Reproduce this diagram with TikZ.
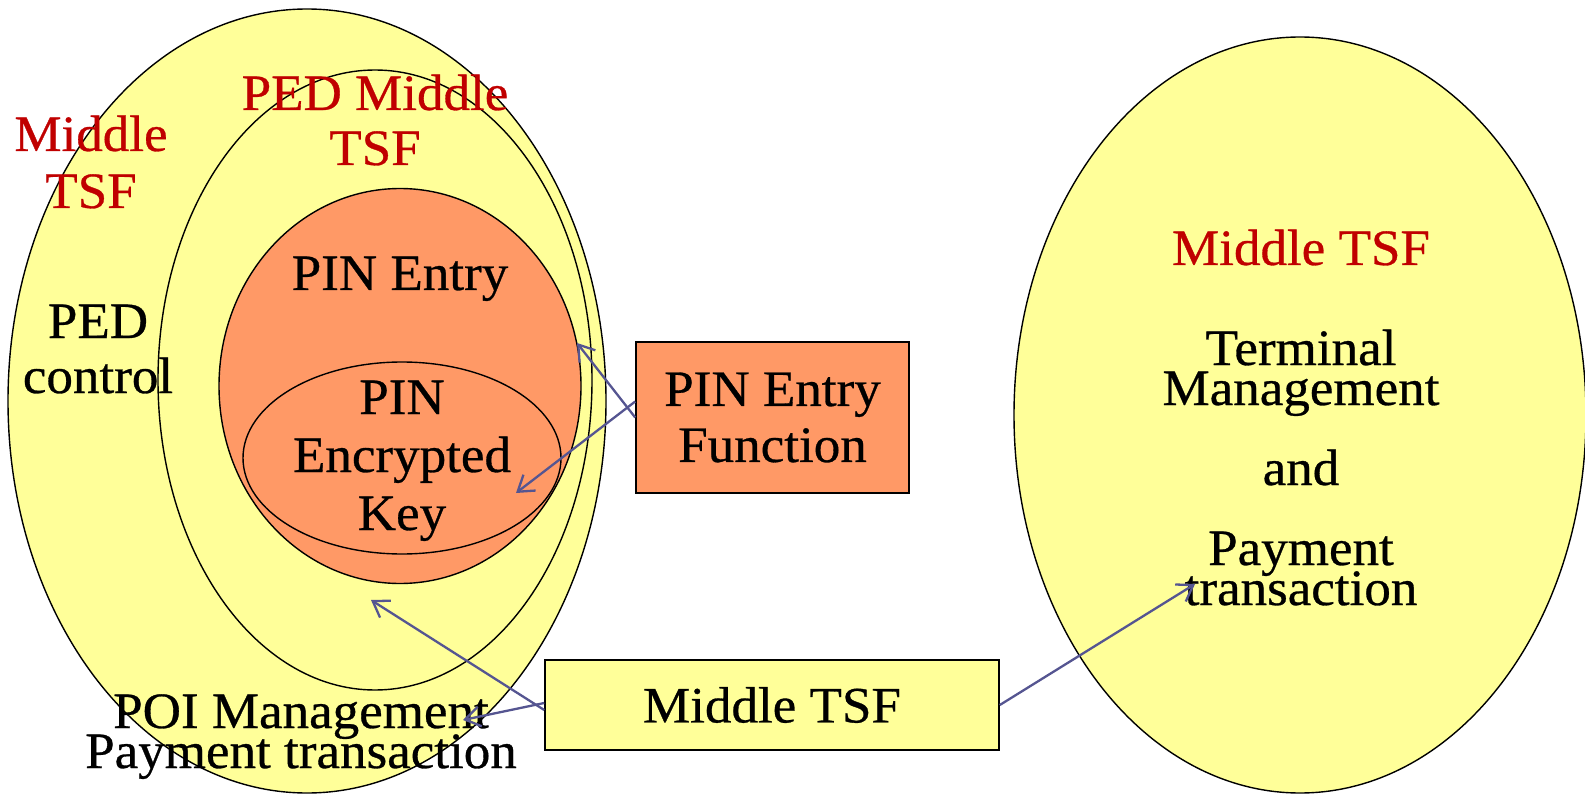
\documentclass[tikz,border=0pt]{standalone}
\usepackage{fontspec}
\setmainfont[FakeStretch=1.04, FakeBold=0.6]{Liberation Serif}
\usetikzlibrary{shapes.geometric,arrows.meta}
\definecolor{paleyellow}{HTML}{FFFF99}
\definecolor{salmon}{HTML}{FF9966}
\definecolor{tsfred}{HTML}{C00000}
\definecolor{linkblue}{RGB}{85,85,145}
\tikzset{
  zone/.style={ellipse, draw=black, line width=1.4pt, inner sep=0pt},
  fnbox/.style={draw=black, line width=1.6pt, inner sep=0pt, align=center,
    font=\fontsize{51}{56}\selectfont},
  lbl/.style={anchor=base, inner sep=0pt, font=\fontsize{51}{56}\selectfont},
  redlbl/.style={lbl, text=tsfred},
  link/.style={draw=linkblue, line width=2.3pt,
    -{Straight Barb[length=15pt, width=20pt, line width=2.3pt]}}
}
\begin{document}
\begin{tikzpicture}[x=1pt, y=-1pt]
  \useasboundingbox (0,0) rectangle (1585,794);

  % nested security zones on the left
  \node[zone, fill=paleyellow, minimum width=598pt, minimum height=784pt] (outer) at (307,401) {};
  \node[zone, fill=paleyellow, minimum width=434pt, minimum height=620pt] (ped) at (375,380) {};
  \node[zone, fill=salmon, minimum width=362pt, minimum height=395pt] (pinzone) at (400,386) {};
  \node[zone, fill=salmon, minimum width=318pt, minimum height=192pt] (keyzone) at (402,458) {};

  % terminal zone on the right
  \node[zone, fill=paleyellow, minimum width=572pt, minimum height=756pt] (terminal) at (1300,415) {};

  % function boxes
  \node[fnbox, fill=salmon, minimum width=273pt, minimum height=151pt] (pinfn) at (772.5,417.5) {PIN Entry\\Function};
  \node[fnbox, fill=paleyellow, minimum width=454pt, minimum height=90pt] (midfn) at (772,705) {Middle TSF};

  % labels of the left zones
  \node[redlbl] (mtsfA) at (91,151) {Middle};
  \node[redlbl] (mtsfB) at (91,208) {TSF};
  \node[lbl] (pedA) at (98,338) {PED};
  \node[lbl] (pedB) at (98,393) {control};
  \node[redlbl] (pmA) at (375,110) {PED Middle};
  \node[redlbl] (pmB) at (375,165) {TSF};
  \node[lbl] (pinentry) at (400,290) {PIN Entry};
  \node[lbl] (keyA) at (402,414) {PIN};
  \node[lbl] (keyB) at (402,472) {Encrypted};
  \node[lbl] (keyC) at (402,530) {Key};
  \node[lbl] (poiA) at (301,728) {POI Management};
  \node[lbl] (poiB) at (301,768) {Payment transaction};

  % labels of the right zone
  \node[redlbl] (rmid) at (1301,265) {Middle TSF};
  \node[lbl] (rA) at (1301,365) {Terminal};
  \node[lbl] (rB) at (1301,405) {Management};
  \node[lbl] (rC) at (1301,485) {and};
  \node[lbl] (rD) at (1301,565) {Payment};
  \node[lbl] (rE) at (1301,605) {transaction};

  % arrow targets
  \coordinate (tipPin) at (577,343);
  \coordinate (tipKey) at (516,493);
  \coordinate (tipPed) at (371,600);
  \coordinate (tipPoi) at (463,720);
  \coordinate (tipTerm) at (1195,584);

  % links
  \draw[link] (pinfn.west) -- (tipPin);
  \draw[link] ([yshift=16pt]pinfn.west) -- (tipKey);
  \draw[link] ([yshift=-5pt]midfn.west) -- (tipPed);
  \draw[link] ([yshift=2pt]midfn.west) -- (tipPoi);
  \draw[link] (midfn.east) -- (tipTerm);
\end{tikzpicture}
\end{document}
